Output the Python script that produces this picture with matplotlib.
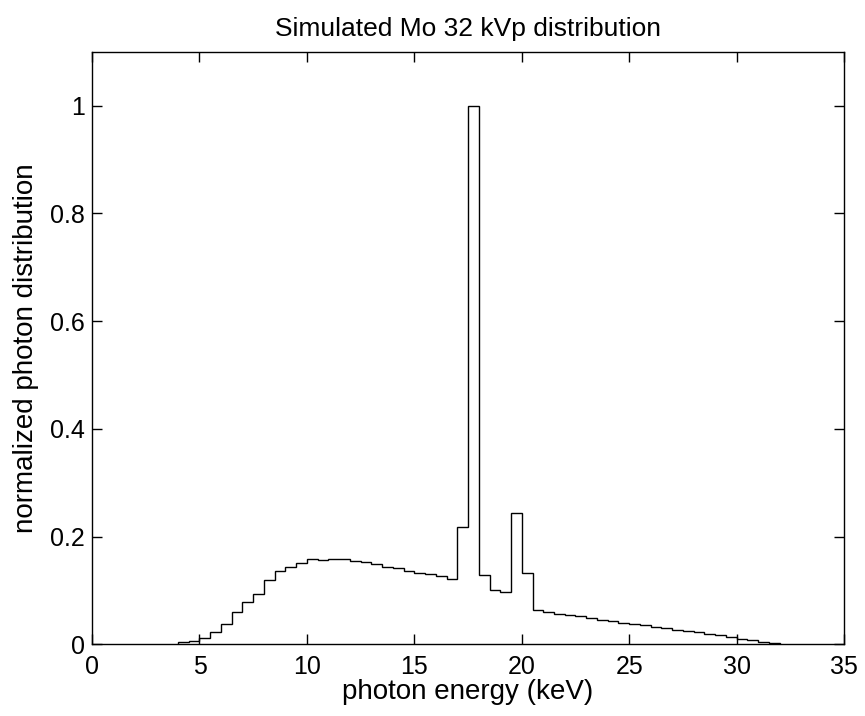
import matplotlib
matplotlib.use("Agg")
import matplotlib.pyplot as plt
import numpy as np

plt.rcParams['font.family'] = ['Liberation Sans', 'DejaVu Sans']

# bin edges start (keV), bins of 0.5 keV from 4 to 32
bin_start = 4.0
bin_width = 0.5
values = [
    0.004, 0.006, 0.012, 0.023, 0.038, 0.060, 0.079, 0.093,   # 4 - 8
    0.120, 0.137, 0.143, 0.151, 0.158, 0.157, 0.158, 0.159,   # 8 - 12
    0.154, 0.153, 0.149, 0.144, 0.141, 0.137, 0.133, 0.130,   # 12 - 16
    0.126, 0.122, 0.218, 1.000, 0.128, 0.101, 0.098, 0.243,   # 16 - 20
    0.133, 0.063, 0.060, 0.057, 0.054, 0.052, 0.048, 0.046,   # 20 - 24
    0.043, 0.040, 0.038, 0.035, 0.032, 0.030, 0.027, 0.024,   # 24 - 28
    0.0225, 0.020, 0.017, 0.0136, 0.0105, 0.0074, 0.005, 0.003,  # 28 - 32
]
title = "Simulated Mo 32 kVp distribution"
xlabel = "photon energy (keV)"
ylabel = "normalized photon distribution"
xticks = [0, 5, 10, 15, 20, 25, 30, 35]
yticks = [0, 0.2, 0.4, 0.6, 0.8, 1]
yticklabels = ["0", "0.2", "0.4", "0.6", "0.8", "1"]

edges = bin_start + bin_width * np.arange(len(values) + 1)

fig = plt.figure(figsize=(8.65, 7.16), dpi=100)
ax = fig.add_axes([0.1064, 0.1001, 0.8694, 0.8277])
ax.stairs(values, edges, color='black', linewidth=1.0, baseline=0)

ax.set_xlim(0, 35)
ax.set_ylim(0, 1.1)
ax.set_xticks(xticks)
ax.set_yticks(yticks)
ax.set_yticklabels(yticklabels)
ax.tick_params(direction='in', length=7, width=1, top=True, right=True,
               labelsize=18)
ax.tick_params(axis='x', pad=7.5)
ax.tick_params(axis='y', pad=5)
for s in ax.spines.values():
    s.set_linewidth(1.0)
ax.set_title(title, fontsize=19, pad=11)
ax.set_xlabel(xlabel, fontsize=20, labelpad=0)
ax.set_ylabel(ylabel, fontsize=20, labelpad=8)

fig.savefig("out.png", dpi=100)
